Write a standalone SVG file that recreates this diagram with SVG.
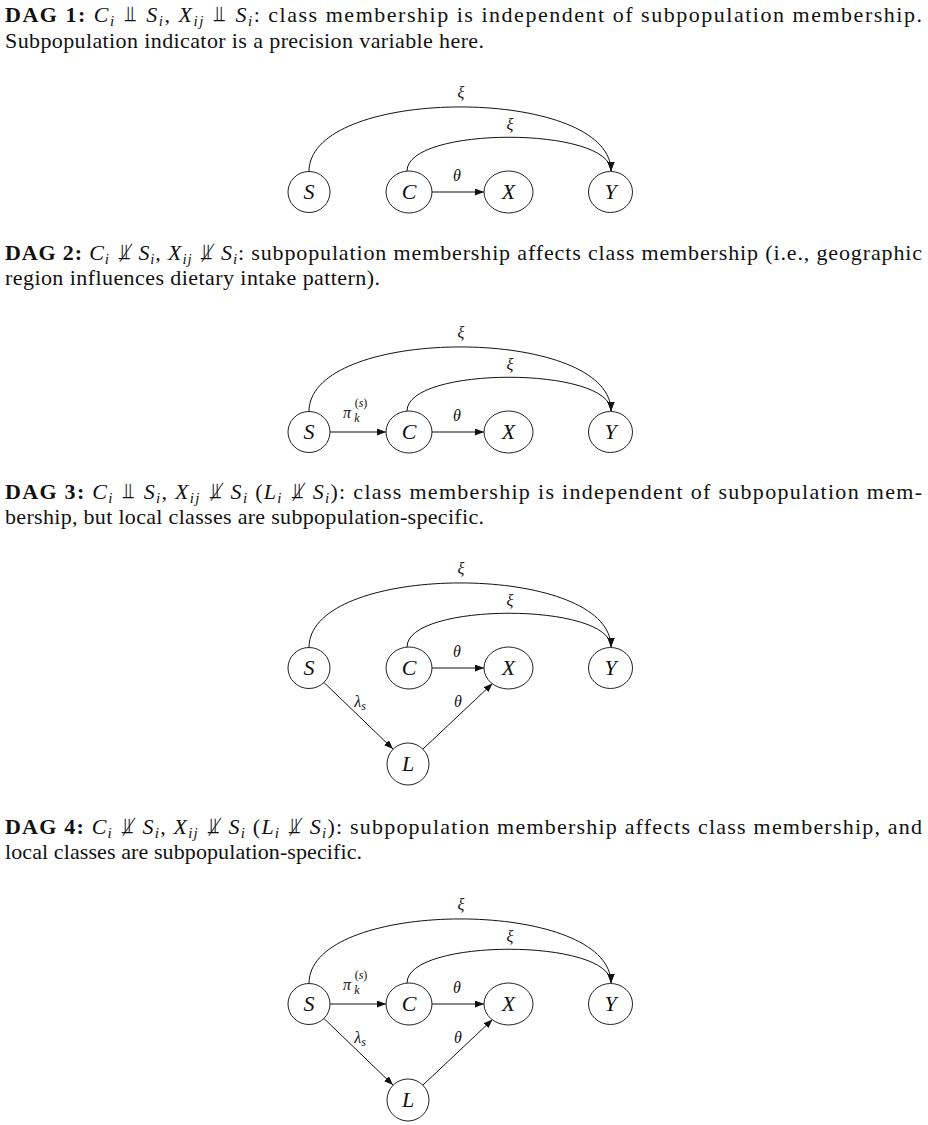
<svg xmlns="http://www.w3.org/2000/svg" width="928" height="1125" viewBox="0 0 928 1125">
<style>
.t{font-family:"Liberation Serif","Times New Roman",serif;font-size:22px;fill:#111}
.b{font-weight:bold}
.i{font-style:italic}
.sb{font-style:italic;font-size:15px}
.sy{font-family:"DejaVu Serif","DejaVu Sans",serif;font-size:22px}
.nd ellipse{fill:#fff;stroke:#222;stroke-width:1}
.nl{font-family:"Liberation Serif","Times New Roman",serif;font-style:italic;font-size:22px;fill:#111;text-anchor:middle}
.el{font-family:"Liberation Serif","Times New Roman",serif;font-style:italic;font-size:16px;fill:#111;text-anchor:middle}
.es{font-family:"Liberation Serif","Times New Roman",serif;font-size:12px;fill:#111;text-anchor:middle}
.ek{font-family:"Liberation Serif","Times New Roman",serif;font-style:italic;font-size:12px;fill:#111;text-anchor:middle}
.cn path{fill:none;stroke:#111;stroke-width:1;marker-end:url(#ah)}
</style>
<defs>
<marker id="ah" markerWidth="10" markerHeight="8" refX="9" refY="3.5" orient="auto" markerUnits="userSpaceOnUse">
<path d="M0,0 L9,3.5 L0,7 Z" fill="#111"/>
</marker>
</defs>
<rect width="928" height="1125" fill="#fff"/>

<!-- Headers -->
<g id="header1">
<text class="t" x="5" y="22" textLength="917" lengthAdjust="spacing"><tspan class="b">DAG 1:</tspan> <tspan class="i">C</tspan><tspan class="sb" dy="4">i</tspan><tspan class="sy" dy="-4"> ⫫ </tspan><tspan class="i">S</tspan><tspan class="sb" dy="4">i</tspan><tspan dy="-4">, </tspan><tspan class="i">X</tspan><tspan class="sb" dy="4">ij</tspan><tspan class="sy" dy="-4"> ⫫ </tspan><tspan class="i">S</tspan><tspan class="sb" dy="4">i</tspan><tspan dy="-4">: class membership is independent of subpopulation membership.</tspan></text>
<text class="t" x="5" y="48" textLength="479" lengthAdjust="spacing">Subpopulation indicator is a precision variable here.</text>
</g>
<g id="header2">
<text class="t" x="5" y="260" textLength="917" lengthAdjust="spacing"><tspan class="b">DAG 2:</tspan> <tspan class="i">C</tspan><tspan class="sb" dy="4">i</tspan><tspan class="sy" dy="-4"> ⫫̸ </tspan><tspan class="i">S</tspan><tspan class="sb" dy="4">i</tspan><tspan dy="-4">, </tspan><tspan class="i">X</tspan><tspan class="sb" dy="4">ij</tspan><tspan class="sy" dy="-4"> ⫫̸ </tspan><tspan class="i">S</tspan><tspan class="sb" dy="4">i</tspan><tspan dy="-4">: subpopulation membership affects class membership (i.e., geographic</tspan></text>
<text class="t" x="5" y="285" textLength="375" lengthAdjust="spacing">region influences dietary intake pattern).</text>
</g>
<g id="header3">
<text class="t" x="5" y="499" textLength="917" lengthAdjust="spacing"><tspan class="b">DAG 3:</tspan> <tspan class="i">C</tspan><tspan class="sb" dy="4">i</tspan><tspan class="sy" dy="-4"> ⫫ </tspan><tspan class="i">S</tspan><tspan class="sb" dy="4">i</tspan><tspan dy="-4">, </tspan><tspan class="i">X</tspan><tspan class="sb" dy="4">ij</tspan><tspan class="sy" dy="-4"> ⫫̸ </tspan><tspan class="i">S</tspan><tspan class="sb" dy="4">i</tspan><tspan dy="-4"> (</tspan><tspan class="i">L</tspan><tspan class="sb" dy="4">i</tspan><tspan class="sy" dy="-4"> ⫫̸ </tspan><tspan class="i">S</tspan><tspan class="sb" dy="4">i</tspan><tspan dy="-4">): class membership is independent of subpopulation mem-</tspan></text>
<text class="t" x="5" y="524" textLength="479" lengthAdjust="spacing">bership, but local classes are subpopulation-specific.</text>
</g>
<g id="header4">
<text class="t" x="5" y="834" textLength="917" lengthAdjust="spacing"><tspan class="b">DAG 4:</tspan> <tspan class="i">C</tspan><tspan class="sb" dy="4">i</tspan><tspan class="sy" dy="-4"> ⫫̸ </tspan><tspan class="i">S</tspan><tspan class="sb" dy="4">i</tspan><tspan dy="-4">, </tspan><tspan class="i">X</tspan><tspan class="sb" dy="4">ij</tspan><tspan class="sy" dy="-4"> ⫫̸ </tspan><tspan class="i">S</tspan><tspan class="sb" dy="4">i</tspan><tspan dy="-4"> (</tspan><tspan class="i">L</tspan><tspan class="sb" dy="4">i</tspan><tspan class="sy" dy="-4"> ⫫̸ </tspan><tspan class="i">S</tspan><tspan class="sb" dy="4">i</tspan><tspan dy="-4">): subpopulation membership affects class membership, and</tspan></text>
<text class="t" x="5" y="859" textLength="357" lengthAdjust="spacing">local classes are subpopulation-specific.</text>
</g>

<!-- Connectors -->
<g id="connectors" class="cn">
<!-- DAG1 B=192 -->
<path d="M309,171.5 C309,85.5 611,85.5 611,171"/>
<path d="M407,171 C407,126 611,126 611,171"/>
<path d="M432,192 L484,192"/>
<!-- DAG2 B=432 -->
<path d="M309,411.5 C309,325.5 611,325.5 611,411"/>
<path d="M407,411 C407,366 611,366 611,411"/>
<path d="M330,432 L386,432"/>
<path d="M432,432 L484,432"/>
<!-- DAG3 B=668 -->
<path d="M309,647.5 C309,561.5 611,561.5 611,647"/>
<path d="M407,647 C407,602 611,602 611,647"/>
<path d="M432,668 L484,668"/>
<path d="M324,682.5 L393,749"/>
<path d="M423,749 L492.5,683.5"/>
<!-- DAG4 B=1004 -->
<path d="M309,983.5 C309,897.5 611,897.5 611,983"/>
<path d="M407,983 C407,938 611,938 611,983"/>
<path d="M330,1004 L386,1004"/>
<path d="M432,1004 L484,1004"/>
<path d="M324,1018.5 L393,1085"/>
<path d="M423,1085 L492.5,1019.5"/>
</g>

<!-- Edge labels -->
<g id="edge-labels">
<text class="el" x="461" y="98">ξ</text>
<text class="el" x="510" y="130">ξ</text>
<text class="el" x="457" y="181">θ</text>

<text class="el" x="461" y="338">ξ</text>
<text class="el" x="510" y="370">ξ</text>
<text class="el" x="457" y="421">θ</text>
<text class="el" x="347" y="418">π</text>
<text class="es" x="361" y="407">(<tspan class="ek">s</tspan>)</text>
<text class="ek" x="357" y="422">k</text>

<text class="el" x="461" y="574">ξ</text>
<text class="el" x="510" y="606">ξ</text>
<text class="el" x="457" y="657">θ</text>
<text class="el" x="360" y="707">λ<tspan class="ek" dy="3">s</tspan></text>
<text class="el" x="458" y="707">θ</text>

<text class="el" x="461" y="910">ξ</text>
<text class="el" x="510" y="942">ξ</text>
<text class="el" x="457" y="993">θ</text>
<text class="el" x="347" y="990">π</text>
<text class="es" x="361" y="979">(<tspan class="ek">s</tspan>)</text>
<text class="ek" x="357" y="994">k</text>
<text class="el" x="360" y="1043">λ<tspan class="ek" dy="3">s</tspan></text>
<text class="el" x="458" y="1043">θ</text>
</g>

<!-- DAG1 nodes -->
<g id="dag1-S" class="nd"><ellipse cx="309" cy="192" rx="21" ry="20.5"/><text class="nl" x="309" y="199">S</text></g>
<g id="dag1-C" class="nd"><ellipse cx="409" cy="192" rx="23" ry="21"/><text class="nl" x="409" y="199">C</text></g>
<g id="dag1-X" class="nd"><ellipse cx="508.5" cy="192" rx="24.5" ry="21"/><text class="nl" x="508.5" y="199">X</text></g>
<g id="dag1-Y" class="nd"><ellipse cx="610.5" cy="192" rx="22" ry="20.5"/><text class="nl" x="610.5" y="199">Y</text></g>
<!-- DAG2 nodes -->
<g id="dag2-S" class="nd"><ellipse cx="309" cy="432" rx="21" ry="20.5"/><text class="nl" x="309" y="439">S</text></g>
<g id="dag2-C" class="nd"><ellipse cx="409" cy="432" rx="23" ry="21"/><text class="nl" x="409" y="439">C</text></g>
<g id="dag2-X" class="nd"><ellipse cx="508.5" cy="432" rx="24.5" ry="21"/><text class="nl" x="508.5" y="439">X</text></g>
<g id="dag2-Y" class="nd"><ellipse cx="610.5" cy="432" rx="22" ry="20.5"/><text class="nl" x="610.5" y="439">Y</text></g>
<!-- DAG3 nodes -->
<g id="dag3-S" class="nd"><ellipse cx="309" cy="668" rx="21" ry="20.5"/><text class="nl" x="309" y="675">S</text></g>
<g id="dag3-C" class="nd"><ellipse cx="409" cy="668" rx="23" ry="21"/><text class="nl" x="409" y="675">C</text></g>
<g id="dag3-X" class="nd"><ellipse cx="508.5" cy="668" rx="24.5" ry="21"/><text class="nl" x="508.5" y="675">X</text></g>
<g id="dag3-Y" class="nd"><ellipse cx="610.5" cy="668" rx="22" ry="20.5"/><text class="nl" x="610.5" y="675">Y</text></g>
<g id="dag3-L" class="nd"><ellipse cx="408" cy="764" rx="21" ry="21"/><text class="nl" x="408" y="771">L</text></g>
<!-- DAG4 nodes -->
<g id="dag4-S" class="nd"><ellipse cx="309" cy="1004" rx="21" ry="20.5"/><text class="nl" x="309" y="1011">S</text></g>
<g id="dag4-C" class="nd"><ellipse cx="409" cy="1004" rx="23" ry="21"/><text class="nl" x="409" y="1011">C</text></g>
<g id="dag4-X" class="nd"><ellipse cx="508.5" cy="1004" rx="24.5" ry="21"/><text class="nl" x="508.5" y="1011">X</text></g>
<g id="dag4-Y" class="nd"><ellipse cx="610.5" cy="1004" rx="22" ry="20.5"/><text class="nl" x="610.5" y="1011">Y</text></g>
<g id="dag4-L" class="nd"><ellipse cx="408" cy="1100" rx="21" ry="21"/><text class="nl" x="408" y="1107">L</text></g>
</svg>
